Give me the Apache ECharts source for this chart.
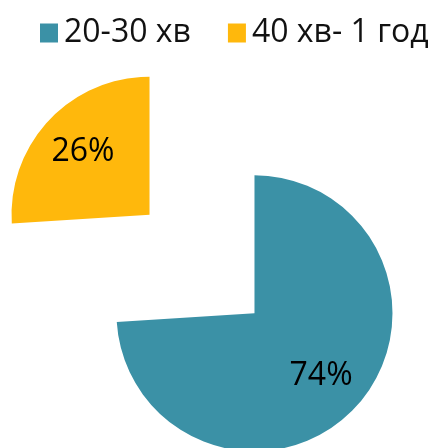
<!DOCTYPE html>
<html>
<head>
<meta charset="utf-8">
<script src="https://cdn.jsdelivr.net/npm/echarts@6/dist/echarts.min.js"></script>
<style>
  html, body { margin: 0; padding: 0; background: #fff; }
  #chart { width: 438px; height: 448px; }
</style>
</head>
<body>
<div id="chart"></div>
<script>
// Travel time shares
const categories = ['20-30 хв', '40 хв- 1 год'];
const shares = [74, 26];
const colors = ['#3B91A6', '#FFB80C'];

const FONT = 'Open Sans';
const center = [202, 264];
const radius = 138;
const offset = 72;

const sliceData = categories.map((name, i) => ({
  name: name,
  value: shares[i],
  selected: true,
  itemStyle: { color: colors[i] }
}));

// Transparent twin pie used only to place the percentage labels further out
const labelData = categories.map((name, i) => ({
  name: name,
  value: shares[i],
  selected: true,
  itemStyle: { color: 'rgba(0,0,0,0)' }
}));

const chart = echarts.init(document.getElementById('chart'), null, { renderer: 'canvas' });
chart.setOption({
  animation: false,
  legend: {
    left: 35,
    top: 12,
    itemWidth: 18,
    itemHeight: 19,
    itemGap: 37,
    icon: 'rect',
    selectedMode: false,
    textStyle: { fontFamily: FONT, fontSize: 32, color: '#111', padding: [0, 0, 0, 1] },
    data: categories.map((name, i) => ({ name: name, itemStyle: { color: colors[i] } }))
  },
  series: [
    {
      type: 'pie',
      center: center,
      radius: radius,
      startAngle: 90,
      clockwise: true,
      selectedMode: 'multiple',
      selectedOffset: offset,
      silent: true,
      label: { show: false },
      labelLine: { show: false },
      emphasis: { disabled: true },
      data: sliceData
    },
    {
      type: 'pie',
      center: center,
      radius: radius * 1.28,
      startAngle: 90,
      clockwise: true,
      selectedMode: 'multiple',
      selectedOffset: offset,
      silent: true,
      z: 5,
      label: {
        show: true,
        position: 'inside',
        formatter: '{c}%',
        fontFamily: FONT,
        fontSize: 32,
        color: '#000'
      },
      labelLine: { show: false },
      emphasis: { disabled: true },
      data: labelData
    }
  ]
});
</script>
</body>
</html>
